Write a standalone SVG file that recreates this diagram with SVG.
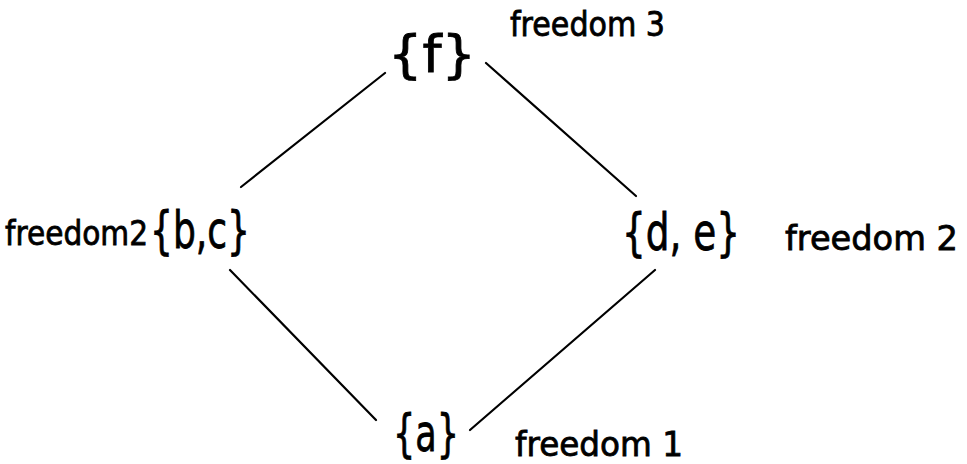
<svg xmlns="http://www.w3.org/2000/svg" width="967" height="464" viewBox="0 0 967 464">
<style>
.lbl{font-family:"DejaVu Sans",sans-serif;font-size:33px;fill:#000;stroke:#000;stroke-width:0.8}
.set{font-family:"DejaVu Sans",sans-serif;font-size:52px;fill:#000;stroke:#000;stroke-width:0.8}
.edge{stroke:#000;stroke-width:2.2;fill:none;stroke-linecap:round}
</style>
<rect width="967" height="464" fill="#fff"/>
<g id="connectors">
<line class="edge" x1="385" y1="73" x2="241" y2="187"/>
<line class="edge" x1="486" y1="63" x2="636" y2="196"/>
<line class="edge" x1="230" y1="270" x2="376" y2="420"/>
<line class="edge" x1="655" y1="270" x2="470" y2="430"/>
</g>
<g id="node-f">
<text class="set" x="388" y="72" textLength="88" lengthAdjust="spacingAndGlyphs">{f}</text>
<text class="lbl" x="510" y="36" textLength="155" lengthAdjust="spacingAndGlyphs">freedom 3</text>
</g>
<g id="node-bc">
<text class="lbl" x="5" y="245" textLength="143" lengthAdjust="spacingAndGlyphs">freedom2</text>
<text class="set" x="150" y="248" textLength="100" lengthAdjust="spacingAndGlyphs">{b,c}</text>
</g>
<g id="node-de">
<text class="set" x="622" y="250" textLength="118" lengthAdjust="spacingAndGlyphs">{d, e}</text>
<text class="lbl" x="785" y="250" textLength="173" lengthAdjust="spacingAndGlyphs">freedom 2</text>
</g>
<g id="node-a">
<text class="set" x="393" y="451" textLength="66" lengthAdjust="spacingAndGlyphs">{a}</text>
<text class="lbl" x="515" y="456" textLength="168" lengthAdjust="spacingAndGlyphs">freedom 1</text>
</g>
</svg>
